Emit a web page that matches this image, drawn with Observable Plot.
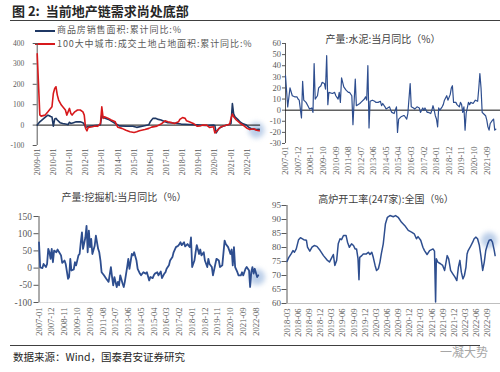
<!DOCTYPE html>
<html>
<head>
<meta charset="utf-8">
<script src="https://cdn.jsdelivr.net/npm/d3@7"></script>
<script src="https://cdn.jsdelivr.net/npm/@observablehq/plot@0.6"></script>
<style>
  body { margin: 0; background: #fff; }
  #chart { position: relative; width: 500px; height: 372px; overflow: hidden; background: #fff; font-family: "Noto Sans CJK SC", sans-serif; }
  .abs { position: absolute; white-space: nowrap; }
  .ptitle { font-size: 10px; color: #404040; transform: translateX(-50%); }
  .leg { font-size: 9px; letter-spacing: 0.9px; color: #595959; line-height: 9px; }
  .sw { display: inline-block; width: 20px; height: 2px; vertical-align: middle; margin-right: 2px; }
</style>
</head>
<body>
<div id="chart">
  <div class="abs" style="left:12px;top:3px;font-size:13px;font-weight:bold;color:#262626;line-height:16px;">图 2:&nbsp;&nbsp;当前地产链需求尚处底部</div>
  <div class="abs" style="left:10px;top:20px;width:490px;height:1px;background:#404040;"></div>
  <div class="abs leg" style="left:35px;top:25px;"><span class="sw" style="background:#1f3864"></span>商品房销售面积:累计同比:%</div>
  <div class="abs leg" style="left:35px;top:38.5px;"><span class="sw" style="background:#d7191c"></span>100大中城市:成交土地占地面积:累计同比:%</div>
  <div class="abs ptitle" style="left:383px;top:31px;">产量:水泥:当月同比（%）</div>
  <div class="abs ptitle" style="left:124px;top:189px;">产量:挖掘机:当月同比（%）</div>
  <div class="abs ptitle" style="left:386px;top:191px;">高炉开工率(247家):全国（%）</div>
  <div class="abs" style="left:10px;top:345px;width:470px;height:1px;background:#404040;"></div>
  <div class="abs" style="left:13px;top:349px;font-size:10.5px;color:#262626;">数据来源：Wind，国泰君安证券研究</div>
  <div class="abs" style="left:440px;top:343px;font-size:12px;color:#a6a6a6;">一凝大势</div>
</div>
<script>
// ---- Panel 1: 商品房销售面积 & 100大中城市成交土地占地面积 (累计同比, %)
const salesArea = [
  ["2009-01",0],["2009-03",16],["2009-06",33],["2009-08",44],["2009-09",49],["2009-10",46],["2009-11",42],["2009-12",40],
  ["2010-01",-5],["2010-02",30],["2010-03",33],["2010-04",25],["2010-06",12],["2010-08",8],["2010-11",4],["2010-12",2],
  ["2011-01",14],["2011-02",8],["2011-04",12],["2011-06",16],["2011-09",16],["2011-11",12],["2011-12",3],
  ["2012-01",-11],["2012-04",-6],["2012-08",-2],["2012-11",0],["2012-12",2],
  ["2013-01",50],["2013-02",37],["2013-06",28],["2013-09",16],["2013-12",4],
  ["2014-02",-4],["2014-07",-6],["2014-12",-6],["2015-03",-11],["2015-08",-4],["2015-12",2],
  ["2016-01",16],["2016-03",33],["2016-05",33],["2016-07",28],["2016-09",25],["2016-12",16],
  ["2017-02",12],["2017-06",10],["2017-12",5],["2018-06",3],["2018-12",1],["2019-06",-2],["2019-12",0],
  ["2020-01",-2],["2020-02",-38],["2020-04",-16],["2020-07",-6],["2020-10",0],["2020-12",4],
  ["2021-01",8],["2021-02",106],["2021-03",55],["2021-04",40],["2021-06",28],["2021-08",14],["2021-10",6],["2021-12",2],
  ["2022-02",-10],["2022-04",-18],["2022-06",-20],["2022-08",-22],["2022-10",-21]
];
const landArea = [
  ["2009-01",350],["2009-03",50],["2009-04",44],["2009-07",49],["2009-09",65],["2009-12",90],
  ["2010-01",155],["2010-02",180],["2010-03",188],["2010-04",147],["2010-05",123],["2010-07",98],["2010-10",74],["2010-11",49],
  ["2011-01",82],["2011-02",57],["2011-03",49],["2011-05",65],["2011-07",74],["2011-09",74],["2011-11",65],["2011-12",49],
  ["2012-01",-16],["2012-02",-28],["2012-03",-11],["2012-06",-8],["2012-08",-4],["2012-10",-6],["2012-12",8],
  ["2013-01",90],["2013-02",33],["2013-03",41],["2013-06",33],["2013-08",25],["2013-11",16],["2013-12",0],
  ["2014-01",-11],["2014-04",-16],["2014-07",-25],["2014-10",-33],["2015-01",-36],["2015-03",-33],["2015-05",-28],["2015-09",-22],["2015-12",-16],
  ["2016-02",-10],["2016-06",-5],["2016-09",5],["2016-12",21],["2017-02",16],["2017-05",12],["2017-07",8],["2017-10",16],["2017-11",28],
  ["2018-01",37],["2018-03",33],["2018-04",21],["2018-06",16],["2018-09",8],["2018-12",-6],
  ["2019-02",-4],["2019-04",0],["2019-07",0],["2019-09",-11],["2019-12",-8],
  ["2020-01",-38],["2020-03",-25],["2020-05",-11],["2020-07",-6],["2020-10",0],["2020-12",4],
  ["2021-01",33],["2021-02",54],["2021-03",41],["2021-05",25],["2021-08",8],["2021-10",0],
  ["2022-01",-16],["2022-03",-22],["2022-06",-18],["2022-08",-25],["2022-10",-28]
];
const p1YTicks = [-100, 0, 100, 200, 300, 400];
const p1XTicks = ["2009-01","2010-01","2011-01","2012-01","2013-01","2014-01","2015-01","2016-01","2017-01","2018-01","2019-01","2020-01","2021-01","2022-01"];

// ---- Panel 2: 产量:水泥:当月同比 (%)
const cement = [
  ["2007-01",31],["2007-03",3],["2007-05",20],["2007-07",13],["2007-09",12],["2007-11",12],["2007-12",10],
  ["2008-01",9],["2008-03",-7],["2008-04",26],["2008-05",9],["2008-07",7],["2008-09",3],["2008-10",1],["2008-12",2],
  ["2009-01",-2],["2009-02",42],["2009-03",10],["2009-05",13],["2009-06",20],["2009-08",22],["2009-09",25],["2009-11",24],["2009-12",19],
  ["2010-01",49],["2010-02",5],["2010-03",16],["2010-06",15],["2010-08",16],["2010-09",13],["2010-11",10],["2010-12",16],
  ["2011-01",7],["2011-02",29],["2011-04",21],["2011-06",18],["2011-08",16],["2011-09",16],["2011-11",13],["2011-12",-13],
  ["2012-02",28],["2012-03",4],["2012-06",6],["2012-07",7],["2012-10",10],["2012-11",12],["2012-12",9],
  ["2013-01",40],["2013-02",-16],["2013-03",8],["2013-05",9],["2013-07",8],["2013-08",7],["2013-10",7],["2013-12",8],
  ["2014-01",4],["2014-02",6],["2014-04",3],["2014-05",1],["2014-08",3],["2014-09",0],["2014-10",-2],["2014-12",-3],
  ["2015-01",0],["2015-02",3],["2015-03",-20],["2015-04",-8],["2015-06",-6],["2015-08",-5],["2015-09",-5],["2015-11",-8],["2015-12",-3],
  ["2016-02",24],["2016-03",3],["2016-05",2],["2016-06",1],["2016-08",3],["2016-10",2],["2016-11",-2],
  ["2017-01",2],["2017-02",0],["2017-03",2],["2017-05",-2],["2017-06",-2],["2017-08",-3],["2017-09",0],["2017-10",4],["2017-11",0],["2017-12",-5],
  ["2018-01",-8],["2018-02",-15],["2018-03",2],["2018-04",0],["2018-06",3],["2018-07",5],["2018-08",9],["2018-10",13],["2018-11",9],
  ["2019-01",14],["2019-02",20],["2019-03",22],["2019-04",7],["2019-05",7],["2019-06",7],["2019-07",5],["2019-09",3],["2019-10",7],["2019-11",5],["2019-12",-2],
  ["2020-01",3],["2020-02",-18],["2020-03",-3],["2020-05",7],["2020-06",5],["2020-07",7],["2020-09",6],["2020-11",9],
  ["2021-01",8],["2021-02",20],["2021-03",33],["2021-04",20],["2021-05",-2],["2021-06",-3],["2021-08",-5],["2021-09",-9],["2021-10",-15],["2021-11",-18],["2021-12",-12],
  ["2022-02",-9],["2022-03",-8],["2022-04",-18],["2022-05",-17]
];
const p2YTicks = [-30, -20, -10, 0, 10, 20, 30, 40, 50, 60];
const p2XTicks = ["2007-01","2007-12","2008-11","2009-10","2010-09","2011-08","2012-07","2013-06","2014-05","2015-04","2016-03","2017-02","2018-01","2018-12","2019-11","2020-10","2021-09"];

// ---- Panel 3: 产量:挖掘机:当月同比 (%)
const excavator = [
  ["2007-01",75],["2007-02",2],["2007-04",0],["2007-05",12],["2007-07",3],["2007-08",12],["2007-09",56],["2007-10",46],["2007-11",27],["2007-12",56],
  ["2008-01",17],["2008-02",51],["2008-04",46],["2008-05",54],["2008-06",48],["2008-08",37],["2008-09",15],["2008-11",22],["2008-12",12],
  ["2009-02",-31],["2009-03",-26],["2009-04",27],["2009-05",-7],["2009-07",-4],["2009-08",17],["2009-09",8],["2009-11",37],["2009-12",41],
  ["2010-01",75],["2010-02",104],["2010-03",56],["2010-05",89],["2010-06",123],["2010-07",46],["2010-08",109],["2010-09",61],["2010-10",85],["2010-11",41],
  ["2011-01",65],["2011-02",94],["2011-04",56],["2011-05",46],["2011-06",22],["2011-07",-12],["2011-09",-21],["2011-11",-31],
  ["2012-01",-40],["2012-03",3],["2012-04",-26],["2012-05",-50],["2012-06",-26],["2012-08",-55],["2012-09",-40],["2012-10",-50],["2012-11",-21],
  ["2013-01",-45],["2013-02",-55],["2013-03",-40],["2013-05",3],["2013-06",27],["2013-07",-2],["2013-09",41],["2013-10",37],["2013-11",46],
  ["2014-01",22],["2014-02",-2],["2014-04",-16],["2014-05",-21],["2014-07",-12],["2014-09",-16],["2014-10",-12],["2014-12",-36],
  ["2015-01",-26],["2015-03",-29],["2015-04",-21],["2015-05",-16],["2015-07",-12],["2015-08",-21],["2015-10",-10],["2015-11",-29],
  ["2016-01",-16],["2016-02",-12],["2016-03",-2],["2016-05",8],["2016-06",22],["2016-08",32],["2016-09",46],["2016-11",61],
  ["2017-01",65],["2017-02",70],["2017-03",75],["2017-04",67],["2017-06",75],["2017-07",63],["2017-09",70],["2017-10",65],["2017-11",61],["2017-12",89],
  ["2018-01",3],["2018-03",22],["2018-04",46],["2018-05",67],["2018-07",41],["2018-08",54],["2018-09",37],["2018-11",46],["2018-12",22],
  ["2019-02",3],["2019-03",27],["2019-04",12],["2019-06",3],["2019-07",-21],["2019-09",12],["2019-10",27],["2019-12",22],
  ["2020-01",3],["2020-03",8],["2020-05",80],["2020-06",70],["2020-08",61],["2020-09",51],["2020-10",41],["2020-11",54],["2020-12",8],
  ["2021-01",61],["2021-02",3],["2021-04",-12],["2021-05",-21],["2021-07",-21],["2021-08",-12],["2021-09",-21],["2021-11",-2],["2021-12",3],
  ["2022-02",-7],["2022-03",-55],["2022-04",-12],["2022-05",3],["2022-06",-16],["2022-07",-2],["2022-09",-26],["2022-10",-21]
];
const p3YTicks = [-100, -50, 0, 50, 100, 150];
const p3XTicks = ["2007-01","2007-12","2008-11","2009-10","2010-09","2011-08","2012-07","2013-06","2014-05","2015-04","2016-03","2017-02","2018-01","2018-12","2019-11","2020-10","2021-09","2022-08"];

// ---- Panel 4: 高炉开工率(247家):全国 (%)
const blastFurnace = [
  ["2018-03-01",75],["2018-03-15",76.4],["2018-04-04",77.7],["2018-04-19",78.9],["2018-05-01",78.3],["2018-05-16",79.5],
  ["2018-06-04",82.8],["2018-06-19",83.5],["2018-07-16",82.8],["2018-08-07",82.6],["2018-08-16",80.1],["2018-09-04",78.7],
  ["2018-09-22",80.1],["2018-10-10",80.7],["2018-11-01",80.4],["2018-11-28",78.9],["2018-12-25",77.1],["2019-01-22",75.6],
  ["2019-02-12",74.8],["2019-03-04",76.5],["2019-03-16",77.5],["2019-03-28",73.6],["2019-04-12",75.4],["2019-04-25",81.3],
  ["2019-05-10",83.1],["2019-05-22",82.8],["2019-06-07",84.3],["2019-06-28",84.3],["2019-07-10",81.9],["2019-07-25",80.1],
  ["2019-08-12",81.3],["2019-08-28",80.7],["2019-09-10",79.5],["2019-09-22",79.5],["2019-10-04",76],["2019-10-12",68.5],
  ["2019-10-18",76.5],["2019-11-04",77.1],["2019-11-16",77.7],["2019-12-12",77.7],["2019-12-28",78.3],["2020-01-10",77.5],
  ["2020-01-25",78.3],["2020-02-06",76.5],["2020-02-21",73.6],["2020-03-04",71.8],["2020-03-19",72.4],["2020-04-01",74.8],
  ["2020-04-12",77.7],["2020-04-28",81.3],["2020-05-07",84.9],["2020-05-16",88.5],["2020-06-01",90.8],["2020-06-22",91.4],
  ["2020-07-19",91],["2020-08-07",91.4],["2020-08-28",90.8],["2020-09-25",89],["2020-10-22",87.8],["2020-11-19",86.1],
  ["2020-12-16",85.5],["2021-01-07",84.9],["2021-01-25",83.1],["2021-02-07",83.9],["2021-03-01",82.6],["2021-03-19",80.1],
  ["2021-04-01",78.9],["2021-04-22",77.5],["2021-05-13",78.9],["2021-06-10",79.5],["2021-06-22",78.7],["2021-07-01",60.5],
  ["2021-07-07",76],["2021-07-19",74.8],["2021-08-10",74.2],["2021-08-28",73.6],["2021-09-13",71.8],["2021-10-04",77.1],
  ["2021-10-16",76],["2021-11-01",71.8],["2021-11-19",70.6],["2021-12-07",69.4],["2021-12-22",68.2],["2022-01-04",73],
  ["2022-01-16",75.4],["2022-01-28",71.2],["2022-02-10",68.8],["2022-02-22",70],["2022-03-07",73],["2022-03-16",77.7],
  ["2022-03-25",78.9],["2022-04-10",80.1],["2022-05-01",81.9],["2022-05-13",83.1],["2022-05-28",83.7],["2022-06-10",83.1],
  ["2022-06-25",80.7],["2022-07-07",77.1],["2022-07-22",71.8],["2022-08-04",74.8],["2022-08-16",78.9],["2022-09-01",81.3],
  ["2022-09-13",82.6],["2022-09-28",82.8],["2022-10-10",81.9],["2022-10-25",78.9],["2022-11-01",77.1]
];
const p4YTicks = [60, 65, 70, 75, 80, 85, 90, 95];
const p4XTicks = ["2018-03","2018-06","2018-09","2018-12","2019-03","2019-06","2019-09","2019-12","2020-03","2020-06","2020-09","2020-12","2021-03","2021-06","2021-09","2021-12","2022-03","2022-06","2022-09"];

// ---- build
const parseM = d3.utcParse("%Y-%m");
const parseD = d3.utcParse("%Y-%m-%d");
const rows = (pairs, parse) => pairs.map(([d, v]) => ({date: parse(d), value: v}));
const fmtM = d3.utcFormat("%Y-%m");
const chart = document.getElementById("chart");

function place(svg, left, top) {
  svg.style.position = "absolute";
  svg.style.left = left + "px";
  svg.style.top = top + "px";
  svg.style.maxWidth = "none";
  svg.querySelectorAll("circle").forEach(c => c.setAttribute("style", "filter: blur(2.5px)"));
  chart.appendChild(svg);
}

const baseStyle = {background: "transparent", overflow: "visible", fontFamily: "'Liberation Serif', serif", color: "#595959"};

// Panel 1
{
  const s = rows(salesArea, parseM), l = rows(landArea, parseM);
  const x0 = parseM("2009-01"), x1 = parseM("2022-11");
  place(Plot.plot({
    width: 262, height: 186, marginLeft: 36.7, marginRight: 1.9, marginTop: 43, marginBottom: 41,
    x: {type: "utc", domain: [x0, x1]},
    y: {domain: [-100, 400]},
    style: {...baseStyle, fontSize: "7.5px"},
    marks: [
      Plot.dot([l[l.length - 2]], {x: "date", y: "value", r: 8, fill: "#9fbbe0", fillOpacity: 0.7}),
      Plot.ruleX([x0], {stroke: "#595959"}),
      Plot.axisY({ticks: p1YTicks, tickSize: 4, tickPadding: 9, tickFormat: d => String(d), fontSize: 7.5, label: null}),
      Plot.axisX({ticks: p1XTicks.map(parseM), tickFormat: fmtM, tickRotate: -90, tickSize: 0, tickPadding: 3, fontSize: 8, label: null}),
      Plot.ruleY([0], {stroke: "#111"}),
      Plot.line(s, {x: "date", y: "value", stroke: "#1f3864", strokeWidth: 1.6}),
      Plot.line(l, {x: "date", y: "value", stroke: "#d7191c", strokeWidth: 1.6})
    ]
  }), 0, 0);
}

// Panel 2
{
  const c = rows(cement, parseM);
  const x0 = parseM("2007-01"), x1 = parseM("2022-09");
  place(Plot.plot({
    width: 250, height: 186, marginLeft: 35, marginRight: 0, marginTop: 43, marginBottom: 43,
    x: {type: "utc", domain: [x0, x1]},
    y: {domain: [-30, 60]},
    style: {...baseStyle, fontSize: "8.5px"},
    marks: [
      Plot.ruleX([x0], {stroke: "#595959"}),
      Plot.axisY({ticks: p2YTicks, tickSize: 3, tickPadding: 1.5, tickFormat: d => String(d), fontSize: 8.5, label: null}),
      Plot.axisX({ticks: p2XTicks.map(parseM), tickFormat: fmtM, tickRotate: -90, tickSize: 0, tickPadding: 3, fontSize: 8.5, label: null}),
      Plot.ruleY([0], {stroke: "#111"}),
      Plot.line(c, {x: "date", y: "value", stroke: "#2e4e8f", strokeWidth: 1.2})
    ]
  }), 250, 0);
}

// Panel 3
{
  const e = rows(excavator, parseM);
  const x0 = parseM("2007-01"), x1 = parseM("2022-12");
  place(Plot.plot({
    width: 262, height: 165, marginLeft: 38.5, marginRight: 1.9, marginTop: 36, marginBottom: 43,
    x: {type: "utc", domain: [x0, x1]},
    y: {domain: [-100, 150]},
    style: {...baseStyle, fontSize: "9px"},
    marks: [
      Plot.dot([e[e.length - 2]], {x: "date", y: "value", r: 8, fill: "#9fbbe0", fillOpacity: 0.7}),
      Plot.ruleY([-100], {stroke: "#d9d9d9"}),
      Plot.ruleX([x0], {stroke: "#595959"}),
      Plot.axisY({ticks: p3YTicks, tickSize: 5, tickPadding: 2, tickFormat: d => String(d), fontSize: 9.5, label: null}),
      Plot.axisX({ticks: p3XTicks.map(parseM), tickFormat: fmtM, tickRotate: -90, tickSize: 0, tickPadding: 5, fontSize: 8.5, label: null}),
      Plot.line(e, {x: "date", y: "value", stroke: "#2e4e8f", strokeWidth: 1.8})
    ]
  }), 0, 180);
}

// Panel 4
{
  const b = rows(blastFurnace, parseD);
  const x0 = parseM("2018-03"), x1 = parseD("2022-12-15");
  place(Plot.plot({
    width: 250, height: 165, marginLeft: 36.5, marginRight: 0, marginTop: 25, marginBottom: 42,
    x: {type: "utc", domain: [x0, x1]},
    y: {domain: [60, 95]},
    style: {...baseStyle, fontSize: "9px"},
    marks: [
      Plot.dot([b[b.length - 5]], {x: "date", y: "value", r: 8, fill: "#9fbbe0", fillOpacity: 0.7}),
      Plot.ruleY([60], {stroke: "#bfbfbf"}),
      Plot.ruleX([x0], {stroke: "#595959"}),
      Plot.axisY({ticks: p4YTicks, tickSize: 5, tickPadding: 1, tickFormat: d => String(d), fontSize: 9, label: null}),
      Plot.axisX({ticks: p4XTicks.map(parseM), tickFormat: fmtM, tickRotate: -90, tickSize: 0, tickPadding: 5, fontSize: 8.5, label: null}),
      Plot.line(b, {x: "date", y: "value", stroke: "#2e4e8f", strokeWidth: 1.5})
    ]
  }), 250, 180);
}
</script>
</body>
</html>
